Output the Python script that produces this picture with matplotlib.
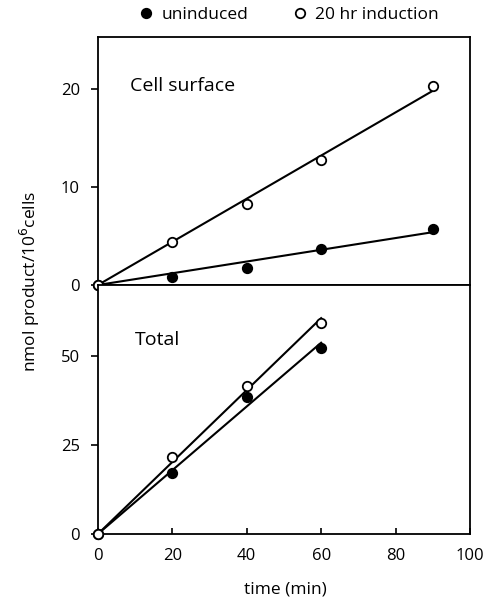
import matplotlib
matplotlib.use("Agg")
import matplotlib.pyplot as plt
import numpy as np
from matplotlib.lines import Line2D

plt.rcParams["font.family"] = ["Open Sans", "DejaVu Sans"]

# time points (min)
time_surface = [0, 20, 40, 60, 90]
time_total = [0, 20, 40, 60]

# cell surface product (nmol / 10^6 cells)
surface_uninduced = [0, 0.85, 1.7, 3.7, 5.7]
surface_induced = [0, 4.4, 8.3, 12.8, 20.3]

# total product (nmol / 10^6 cells)
total_uninduced = [0, 17.1, 38.5, 52.4]
total_induced = [0, 21.8, 41.8, 59.4]

X_TICKS = [0, 20, 40, 60, 80, 100]
TOP_TICKS = [0, 10, 20]
BOT_TICKS = [0, 25, 50]

LW = 1.5
MS = 6.8


def origin_fit(x, y):
    # least squares slope through origin, as drawn in the original figure
    x = np.asarray(x, float)
    y = np.asarray(y, float)
    return (x * y).sum() / (x * x).sum()


def draw_series(ax, x, y, filled):
    slope = origin_fit(x, y)
    xs = np.array([0, max(x)])
    ax.plot(xs, slope * xs, color="black", lw=LW, zorder=2, clip_on=False)
    ax.plot(x, y, ls="none", marker="o", ms=MS, mew=1.3,
            mec="black", mfc="black" if filled else "white",
            zorder=3, clip_on=False)


fig = plt.figure(figsize=(4.87, 6.06), dpi=100)
left, width = 0.201, 0.764
ax_top = fig.add_axes([left, 0.5297, width, 0.4093])
ax_bot = fig.add_axes([left, 0.1188, width, 0.4109])

draw_series(ax_top, time_surface, surface_uninduced, True)
draw_series(ax_top, time_surface, surface_induced, False)
draw_series(ax_bot, time_total, total_uninduced, True)
draw_series(ax_bot, time_total, total_induced, False)

for ax in (ax_top, ax_bot):
    ax.set_xlim(0, 100)
    for s in ax.spines.values():
        s.set_linewidth(1.3)

ax_top.set_ylim(0, 25.3)
ax_top.set_yticks(TOP_TICKS)
ax_top.set_xticks([])
ax_top.tick_params(axis="y", direction="out", length=5, width=1.2, labelsize=12, pad=8)

ax_bot.set_ylim(0, 70.1)
ax_bot.set_yticks(BOT_TICKS)
ax_bot.set_xticks(X_TICKS)
ax_bot.tick_params(axis="y", direction="out", length=5, width=1.2, labelsize=12, pad=8)
ax_bot.tick_params(axis="x", direction="in", length=4, width=1.2, labelsize=12, pad=10)

ax_top.text(8.6, 20.3, "Cell surface", fontsize=14, va="center", ha="left")
ax_bot.text(10, 54.5, "Total", fontsize=14, va="center", ha="left")

fig.text(0.062, 0.535, r"nmol product/10$^6$cells", rotation=90,
         ha="center", va="center", fontsize=12.5)
fig.text(0.585, 0.027, "time (min)", ha="center", va="center", fontsize=12.5)

handles = [
    Line2D([], [], ls="none", marker="o", ms=MS, mec="black", mfc="black", mew=1.3),
    Line2D([], [], ls="none", marker="o", ms=MS, mec="black", mfc="white", mew=1.3),
]
fig.legend(handles, ["uninduced", "20 hr induction"], loc="center",
           bbox_to_anchor=(0.59, 0.976), ncol=2, frameon=False, fontsize=12.5,
           handletextpad=0.25, columnspacing=2.4, handlelength=1.2)

fig.savefig("out.png", dpi=100)
